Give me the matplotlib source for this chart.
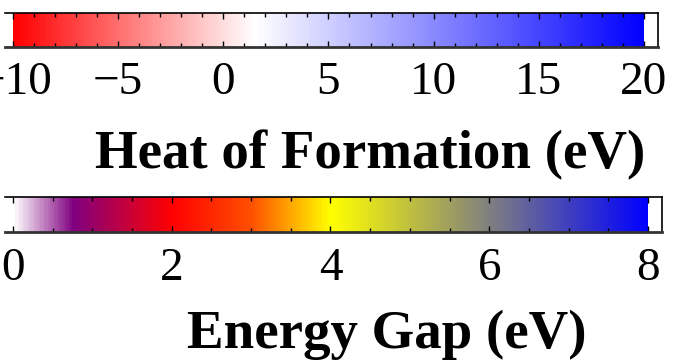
#!/usr/bin/env python
"""
Two horizontal colour bars: heat of formation and energy gap.
"""

import numpy as np
import matplotlib.pyplot as plt
import matplotlib.transforms as mtransforms
from matplotlib.colors import LinearSegmentedColormap

# heat of formation colour bar
HEAT_STOPS = [-10, 1.5, 20]
HEAT_COLORS = ['#ff0000', '#ffffff', '#0000ff']
HEAT_TICKS = [-10, -5, 0, 5, 10, 15, 20]
HEAT_LABELS = ['\u221210', '\u22125', '0', '5', '10', '15', '20']
HEAT_MINOR_STEP = 1

# energy gap colour bar
GAP_STOPS = [0, 0.75, 2, 3, 4, 6, 8]
GAP_COLORS = ['#ffffff', '#800080', '#ff0000', '#ff5000', '#ffff00',
              '#808080', '#0000ff']
GAP_TICKS = [0, 2, 4, 6, 8]
GAP_LABELS = ['0', '2', '4', '6', '8']
GAP_MINOR_STEP = 0.5

W, H = 673, 361
SERIF = 'Liberation Serif'


def make_cmap(stops, colors):
    lo, hi = stops[0], stops[-1]
    pos = [(s - lo) / (hi - lo) for s in stops]
    return LinearSegmentedColormap.from_list('c', list(zip(pos, colors)))


def draw_bar(ax, stops, colors, ticks, labels, step, xlim):
    cmap = make_cmap(stops, colors)
    edges = np.linspace(stops[0], stops[-1], 257)
    mids = (edges[:-1] + edges[1:]) / 2
    ax.pcolormesh(edges, [0, 1], mids[np.newaxis, :], cmap=cmap,
                  vmin=stops[0], vmax=stops[-1], shading='flat')
    ax.set_xlim(*xlim)
    ax.set_ylim(0, 1)
    ax.set_yticks([])
    ax.spines['left'].set_visible(False)
    for s in ('top', 'right'):
        ax.spines[s].set_linewidth(1.2)
    ax.spines['bottom'].set_linewidth(2.0)
    ax.spines['bottom'].set_color('#333333')
    ax.set_xticks(ticks)
    ax.set_xticklabels(labels, fontfamily=SERIF, fontsize=34)
    minor = np.arange(stops[0], stops[-1] + step / 2, step)
    ax.set_xticks(minor, minor=True)
    ax.tick_params(axis='x', which='both', direction='in', top=True,
                   bottom=True, width=1.0)
    ax.tick_params(axis='x', which='major', length=4, pad=11)
    ax.tick_params(axis='x', which='minor', length=3)


fig = plt.figure(figsize=(W / 100, H / 100), dpi=100)

ax1 = fig.add_axes([5 / W, 1 - 46.5 / H, 653 / W, 34 / H])
draw_bar(ax1, HEAT_STOPS, HEAT_COLORS, HEAT_TICKS, HEAT_LABELS,
         HEAT_MINOR_STEP, (-10.38, 20.67))
# first label sits partly beyond the left edge, as in the source image
first = ax1.get_xticklabels()[0]
first.set_transform(first.get_transform() +
                    mtransforms.ScaledTranslation(3 / 100, 0,
                                                  fig.dpi_scale_trans))

ax2 = fig.add_axes([5 / W, 1 - 232.3 / H, 657 / W, 35 / H])
draw_bar(ax2, GAP_STOPS, GAP_COLORS, GAP_TICKS, GAP_LABELS,
         GAP_MINOR_STEP, (-0.10, 8.176))

fig.text(95 / W, 1 - 168 / H, 'Heat of Formation (eV)', fontfamily=SERIF,
         fontweight='bold', fontsize=39.5, ha='left', va='baseline')
fig.text(187 / W, 1 - 348 / H, 'Energy Gap (eV)', fontfamily=SERIF,
         fontweight='bold', fontsize=39.5, ha='left', va='baseline')

fig.savefig('out.png', dpi=100)
